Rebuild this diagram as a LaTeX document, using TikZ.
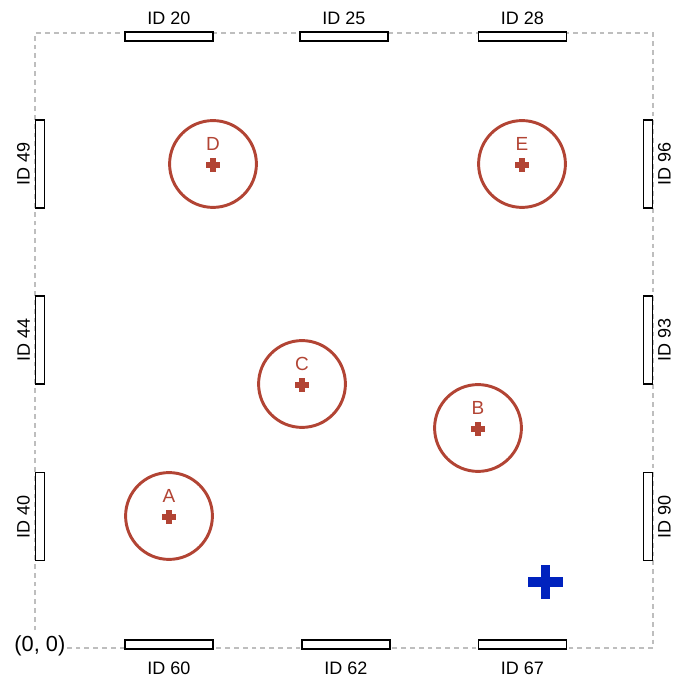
\documentclass[tikz,border=0pt]{standalone}
\usepackage{fontspec}
\setmainfont{Liberation Sans}
\usetikzlibrary{positioning}

\definecolor{zonered}{RGB}{178,68,52}
\definecolor{tagblue}{RGB}{0,34,190}
\definecolor{framegray}{RGB}{190,190,190}

\begin{document}
\begin{tikzpicture}[x=0.025cm, y=0.025cm,
    idtext/.style={font=\fontsize{12.8}{15}\selectfont, text=black},
    sensorh/.style={draw, fill=white, line width=1.05pt, inner sep=0pt,
        minimum width=2.19cm, minimum height=0.22cm},
    sensorv/.style={draw, fill=white, line width=1.05pt, inner sep=0pt,
        minimum width=0.22cm, minimum height=2.19cm},
    zone/.style={circle, draw=zonered, line width=2.1pt, inner sep=0pt,
        minimum size=2.17cm},
    zonetext/.style={font=\fontsize{13.5}{15}\selectfont, text=zonered}]
    \useasboundingbox (0,0) rectangle (672,677);

    % Sala
    \draw[framegray, line width=1.3pt, dash pattern=on 0.12cm off 0.1cm]
        (35,29) rectangle (653,644);

    % Sensores arriba y abajo
    \foreach \id/\x in {20/169, 25/344, 28/522.5} {
        \node[sensorh] (s\id) at (\x,640.5) {};
        \node[idtext, above=1pt of s\id] (l\id) {ID \id};
    }
    \foreach \id/\x in {60/169, 62/346, 67/522.5} {
        \node[sensorh] (s\id) at (\x,32.5) {};
        \node[idtext, below=5pt of s\id] (l\id) {ID \id};
    }

    % Sensores a los lados
    \foreach \id/\y in {49/513, 44/337, 40/160.5} {
        \node[sensorv] (s\id) at (40,\y) {};
        \node[idtext, rotate=90, anchor=south] (l\id) at (s\id.west) {ID \id};
    }
    \foreach \id/\y in {96/513, 93/337, 90/160.5} {
        \node[sensorv] (s\id) at (648,\y) {};
        \node[idtext, rotate=90, anchor=north] (l\id) at (s\id.east) {ID \id};
    }

    % Origen
    \node[idtext, font=\fontsize{15.5}{17}\selectfont, fill=white, inner sep=1pt,
        anchor=east] (origin) at (67,31) {(0, 0)};

    % Zonas
    \foreach \n/\x/\y in {A/169/161, B/478/249, C/302/293, D/213/513, E/522/513} {
        \node[zone] (zone\n) at (\x,\y) {};
        \node[zonetext] (name\n) at (\x,\y+20) {\n};
        \draw[zonered, line width=3.6pt] (\x-7,\y-1) -- (\x+7,\y-1)
            (\x,\y-8) -- (\x,\y+6);
    }

    % Posicion estimada
    \draw[tagblue, line width=7pt] (528,95) -- (563,95) (545.5,78) -- (545.5,112);
\end{tikzpicture}
\end{document}
